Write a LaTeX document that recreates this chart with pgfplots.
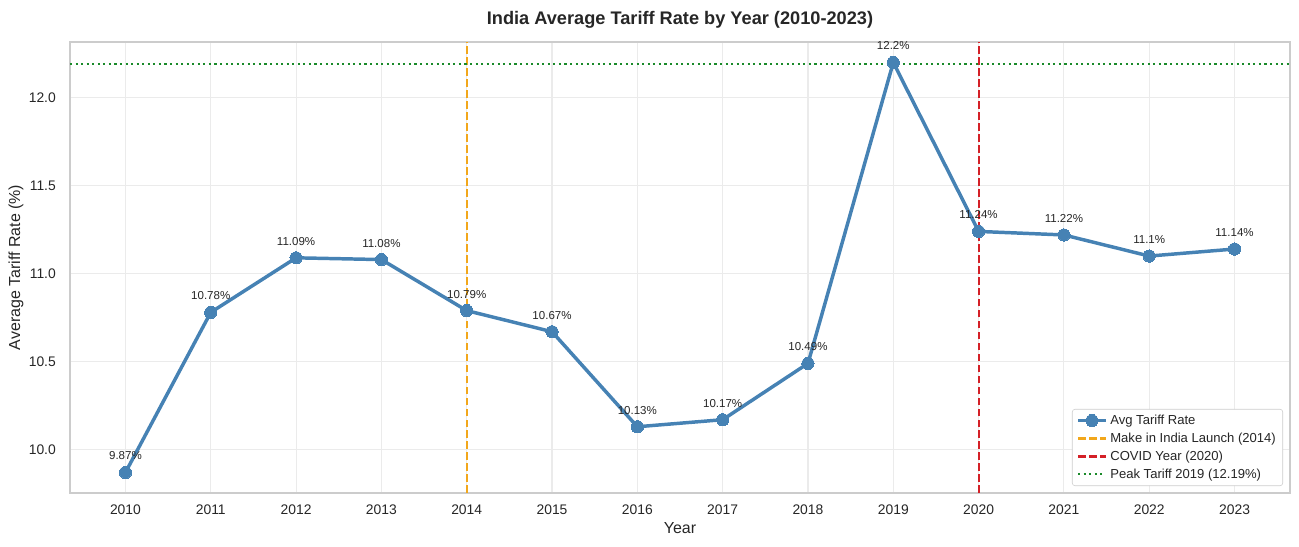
\documentclass[border=0pt]{standalone}
\usepackage{pgfplots}
\usepackage{pgfplotstable}
\pgfplotsset{compat=1.18}
\usepackage{fontspec}
\setmainfont{Liberation Sans}
\definecolor{steel}{HTML}{4682B4}
\definecolor{gridc}{HTML}{EBEBEB}
\definecolor{spine}{HTML}{CCCCCC}
\definecolor{txt}{HTML}{262626}
\definecolor{mkorange}{HTML}{F2A71B}
\definecolor{covred}{HTML}{D42027}
\definecolor{peakgreen}{HTML}{1A8A2A}

\pgfplotstableread{
year rate label
2010 9.87 9.87
2011 10.78 10.78
2012 11.09 11.09
2013 11.08 11.08
2014 10.79 10.79
2015 10.67 10.67
2016 10.13 10.13
2017 10.17 10.17
2018 10.49 10.49
2019 12.20 12.2
2020 11.24 11.24
2021 11.22 11.22
2022 11.10 11.1
2023 11.14 11.14
}\tariff

\begin{document}
\begin{tikzpicture}
\useasboundingbox (-50.4pt,-38.88pt) rectangle (884.88pt,354.96pt);
\begin{axis}[
  at={(0,0)}, anchor=south west, scale only axis,
  width=878.4pt, height=324.72pt,
  xmin=2009.35, xmax=2023.65, ymin=9.7535, ymax=12.3165,
  xtick={2010,2011,...,2023}, ytick={10,10.5,11,11.5,12},
  /pgf/number format/assume math mode=true,
  xticklabel style={/pgf/number format/1000 sep={}, anchor=north, inner sep=0pt, yshift=-8.6pt},
  yticklabel style={/pgf/number format/fixed, /pgf/number format/fixed zerofill, /pgf/number format/precision=1, anchor=east, inner sep=0pt, xshift=-10pt},
  tick label style={font=\fontsize{10}{12}\selectfont, text=txt},
  major tick length=0pt,
  grid=major,
  major grid style={gridc, line width=0.8pt},
  axis line style={spine, line width=1.2pt},
  xlabel={Year}, ylabel={Average Tariff Rate (\%)},
  label style={font=\fontsize{11.5}{13}\selectfont, text=txt},
  xlabel style={at={(axis description cs:0.5,-0.0776)}, anchor=center},
  ylabel style={at={(axis description cs:-0.0443,0.5)}, anchor=center},
  title={India Average Tariff Rate by Year (2010-2023)},
  title style={at={(axis description cs:0.5,1.031)}, anchor=center, font=\bfseries\fontsize{13.1}{16}\selectfont, text=txt},
  legend style={at={(0.9943,0.0155)}, anchor=south east, draw=spine, rounded corners=2pt,
    font=\fontsize{9.4}{11}\selectfont, text=txt, fill=white, row sep=0.6pt, inner xsep=3pt, inner ysep=2pt},
  legend cell align=left,
  legend image code/.code={\draw[mark repeat=2,mark phase=2] plot coordinates {(0cm,0cm) (0.35cm,0cm) (0.7cm,0cm)};},
]
\addplot[steel, line width=2.5pt, mark=*, mark size=4.4pt, mark options={fill=steel, draw=steel, line width=0pt},
  point meta=explicit symbolic,
  nodes near coords={\pgfplotspointmeta\%},
  every node near coord/.append style={anchor=base, yshift=9pt, font=\fontsize{8.3}{10}\selectfont, text=txt}]
  table[x=year, y=rate, meta=label] {\tariff};
\addlegendentry{Avg Tariff Rate}
\addplot[mkorange, line width=1.5pt, dash pattern=on 5.5pt off 2.4pt] coordinates {(2014,9.7535) (2014,12.3165)};
\addlegendentry{Make in India Launch (2014)}
\addplot[covred, line width=1.5pt, dash pattern=on 5.5pt off 2.4pt] coordinates {(2020,9.7535) (2020,12.3165)};
\addlegendentry{COVID Year (2020)}
\addplot[peakgreen, line width=1.5pt, dash pattern=on 1.5pt off 2.5pt] coordinates {(2009.35,12.19) (2023.65,12.19)};
\addlegendentry{Peak Tariff 2019 (12.19\%)}
\end{axis}
\end{tikzpicture}
\end{document}
